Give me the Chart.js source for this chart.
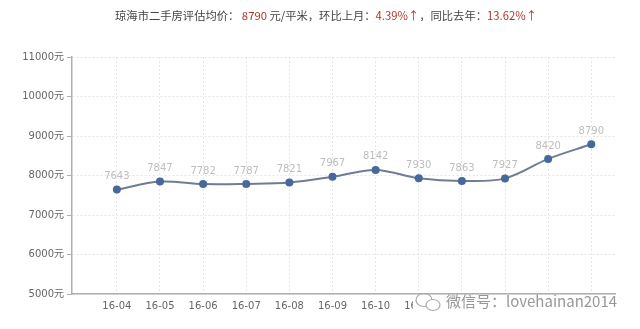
<!DOCTYPE html>
<html>
<head>
<meta charset="utf-8">
<script src="https://cdn.jsdelivr.net/npm/chart.js@4/dist/chart.umd.min.js"></script>
<style>
html,body{margin:0;padding:0;background:#fff;}
#wrap{width:640px;height:329px;position:relative;}
</style>
</head>
<body>
<div id="wrap"><canvas id="c" width="640" height="329"></canvas></div>
<script>
const categories = ["16-04","16-05","16-06","16-07","16-08","16-09","16-10","16-11","16-12","17-01","17-02","17-03"];
const prices = [7643,7847,7782,7787,7821,7967,8142,7930,7863,7927,8420,8790];
const yTicks = [5000,6000,7000,8000,9000,10000,11000];
const titleParts = [
  {t:"琼海市二手房评估均价： ", red:false},
  {t:"8790", red:true},
  {t:" 元/平米，环比上月：", red:false},
  {t:"4.39%↑", red:true},
  {t:"，同比去年：", red:false},
  {t:"13.62%↑", red:true}
];
const watermark = "微信号：lovehainan2014";

const FONT = "'DejaVu Sans','Noto Sans CJK SC',sans-serif";

const titlePlugin = {
  id:'titleP',
  afterDraw(chart){
    const ctx = chart.ctx;
    ctx.save();
    ctx.font = "11.3px 'Noto Sans CJK SC','DejaVu Sans',sans-serif";
    ctx.textBaseline = 'middle';
    let total = 0;
    titleParts.forEach(p=>{ total += ctx.measureText(p.t).width; });
    let x = 326 - total/2;
    titleParts.forEach(p=>{
      ctx.fillStyle = p.red ? '#b0342c' : '#444';
      ctx.fillText(p.t, x, 16);
      x += ctx.measureText(p.t).width;
    });
    ctx.restore();
  }
};

const labelPlugin = {
  id:'labelsP',
  afterDatasetsDraw(chart){
    const ctx = chart.ctx;
    const meta = chart.getDatasetMeta(0);
    ctx.save();
    ctx.font = "10px " + FONT;
    ctx.fillStyle = '#bdbdbd';
    ctx.textAlign = 'center';
    ctx.textBaseline = 'bottom';
    meta.data.forEach((pt,i)=>{
      ctx.fillText(String(prices[i]), pt.x, pt.y - 8);
    });
    ctx.restore();
  }
};

const watermarkPlugin = {
  id:'wm',
  afterDraw(chart){
    const ctx = chart.ctx;
    ctx.save();
    ctx.fillStyle = '#fff';
    ctx.fillRect(413, 296, 227, 20);
    ctx.strokeStyle = '#aaa';
    ctx.lineWidth = 1.2;
    ctx.beginPath(); ctx.ellipse(424, 300, 8, 6.5, 0, 0, Math.PI*2); ctx.stroke();
    ctx.beginPath(); ctx.ellipse(433, 305, 7, 5.5, 0, 0, Math.PI*2); ctx.fillStyle='#fff'; ctx.fill(); ctx.stroke();
    ctx.font = "15px 'Noto Sans CJK SC','DejaVu Sans',sans-serif";
    ctx.textBaseline = 'middle';
    ctx.fillStyle = 'rgba(140,140,140,0.9)';
    ctx.fillText(watermark, 446, 301);
    ctx.restore();
  }
};

new Chart(document.getElementById('c'), {
  type:'line',
  data:{
    datasets:[{
      data: prices.map((v,i)=>({x:i, y:v})),
      borderColor:'#6e7d92',
      borderWidth:2,
      tension:0.35,
      pointRadius:4,
      pointHoverRadius:4,
      pointBackgroundColor:'#46689a',
      pointBorderColor:'#46689a',
      pointBorderWidth:0,
      fill:false
    }]
  },
  options:{
    responsive:false,
    animation:false,
    events:[],
    layout:{padding:{top:57,right:25,left:0,bottom:0}},
    plugins:{legend:{display:false},tooltip:{enabled:false},title:{display:false}},
    scales:{
      x:{
        type:'linear',
        min:-1.04, max:11.55,
        afterBuildTicks(scale){ scale.ticks = categories.map((c,i)=>({value:i})); },
        afterFit(scale){ scale.height = 35; },
        ticks:{
          callback:(v)=>categories[v] ?? '',
          color:'#666',
          font:{family:FONT,size:10},
          padding:6,
          maxRotation:0, autoSkip:false
        },
        grid:{color:'#e6e6e6', drawTicks:false, lineWidth:1},
        border:{color:'#b0b0b0', width:1.5, dash:[2,2]}
      },
      y:{
        min:5000, max:11000,
        afterBuildTicks(scale){ scale.ticks = yTicks.map(v=>({value:v})); },
        afterFit(scale){ scale.width = 72; },
        ticks:{
          callback:(v)=>v+'元',
          color:'#666',
          font:{family:FONT,size:10},
          padding:3
        },
        grid:{color:'#e6e6e6', tickColor:'#b0b0b0', tickLength:5, tickBorderDash:[], lineWidth:1},
        border:{color:'#b0b0b0', width:1.5, dash:[2,2]}
      }
    }
  },
  plugins:[titlePlugin, labelPlugin, watermarkPlugin]
});
</script>
</body>
</html>
